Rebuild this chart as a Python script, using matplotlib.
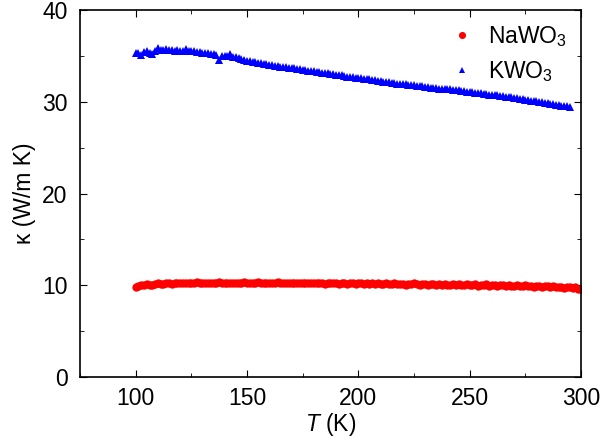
import matplotlib
matplotlib.use('Agg')
import matplotlib.pyplot as plt
from matplotlib.ticker import MultipleLocator

plt.rcParams['font.family'] = ['Liberation Sans', 'DejaVu Sans']
plt.rcParams['mathtext.fontset'] = 'custom'
plt.rcParams['mathtext.rm'] = 'Liberation Sans'
plt.rcParams['mathtext.it'] = 'Liberation Sans:italic'

# температура, K (шаг 1.25 K)
T_na = [100, 101.25, 102.5, 103.75, 105, 106.25, 107.5, 108.75,
        110, 111.25, 112.5, 113.75, 115, 116.25, 117.5, 118.75,
        120, 121.25, 122.5, 123.75, 125, 126.25, 127.5, 128.75,
        130, 131.25, 132.5, 133.75, 135, 136.25, 137.5, 138.75,
        140, 141.25, 142.5, 143.75, 145, 146.25, 147.5, 148.75,
        150, 151.25, 152.5, 153.75, 155, 156.25, 157.5, 158.75,
        160, 161.25, 162.5, 163.75, 165, 166.25, 167.5, 168.75,
        170, 171.25, 172.5, 173.75, 175, 176.25, 177.5, 178.75,
        180, 181.25, 182.5, 183.75, 185, 186.25, 187.5, 188.75,
        190, 191.25, 192.5, 193.75, 195, 196.25, 197.5, 198.75,
        200, 201.25, 202.5, 203.75, 205, 206.25, 207.5, 208.75,
        210, 211.25, 212.5, 213.75, 215, 216.25, 217.5, 218.75,
        220, 221.25, 222.5, 223.75, 225, 226.25, 227.5, 228.75,
        230, 231.25, 232.5, 233.75, 235, 236.25, 237.5, 238.75,
        240, 241.25, 242.5, 243.75, 245, 246.25, 247.5, 248.75,
        250, 251.25, 252.5, 253.75, 255, 256.25, 257.5, 258.75,
        260, 261.25, 262.5, 263.75, 265, 266.25, 267.5, 268.75,
        270, 271.25, 272.5, 273.75, 275, 276.25, 277.5, 278.75,
        280, 281.25, 282.5, 283.75, 285, 286.25, 287.5, 288.75,
        290, 291.25, 292.5, 293.75, 295, 296.25, 297.5, 298.75,
        300]
kappa_na = [9.85, 9.95, 10.0, 10.05, 10.1, 10.0, 10.0, 10.15,
            10.2, 10.15, 10.1, 10.25, 10.25, 10.15, 10.2, 10.3,
            10.3, 10.2, 10.25, 10.2, 10.3, 10.25, 10.35, 10.2,
            10.25, 10.3, 10.2, 10.25, 10.3, 10.2, 10.35, 10.25,
            10.2, 10.3, 10.25, 10.3, 10.2, 10.3, 10.25, 10.35,
            10.3, 10.2, 10.3, 10.25, 10.35, 10.25, 10.2, 10.3,
            10.3, 10.25, 10.2, 10.35, 10.25, 10.3, 10.2, 10.3,
            10.25, 10.2, 10.3, 10.25, 10.2, 10.3, 10.25, 10.2,
            10.25, 10.3, 10.2, 10.25, 10.15, 10.25, 10.2, 10.3,
            10.2, 10.15, 10.25, 10.2, 10.15, 10.25, 10.2, 10.15,
            10.2, 10.25, 10.15, 10.2, 10.1, 10.2, 10.15, 10.25,
            10.15, 10.1, 10.2, 10.15, 10.1, 10.2, 10.1, 10.15,
            10.15, 10.05, 10.15, 10.1, 10.2, 10.1, 10.05, 10.15,
            10.1, 10.05, 10.15, 10.1, 10.0, 10.1, 10.05, 10.15,
            10.05, 10.0, 10.1, 10.05, 10.1, 10.0, 10.05, 10.1,
            10.05, 10.0, 10.1, 9.95, 10.05, 10.0, 10.1, 9.95,
            10.05, 10.0, 9.95, 10.05, 10.0, 9.95, 10.05, 9.9,
            9.95, 10.0, 9.9, 9.95, 10.0, 9.9, 9.95, 9.85,
            9.95, 9.9, 9.85, 9.95, 9.9, 9.8, 9.9, 9.85,
            9.85, 9.8, 9.75, 9.85, 9.8, 9.7, 9.8, 9.65,
            9.55]

T_k = T_na[:157]
kappa_k = [35.35, 35.3, 35.15, 35.45, 35.5, 35.35, 35.2, 35.55,
           35.85, 35.7, 35.65, 35.75, 35.65, 35.7, 35.6, 35.65,
           35.6, 35.55, 35.8, 35.6, 35.5, 35.5, 35.45, 35.4,
           35.35, 35.35, 35.3, 35.25, 35.2, 35.15, 34.6, 35.05,
           35.0, 34.95, 35.2, 34.9, 34.85, 34.75, 34.65, 34.6,
           34.5, 34.45, 34.35, 34.3, 34.25, 34.2, 34.15, 34.1,
           34.05, 34.0, 33.95, 33.9, 33.85, 33.8, 33.75, 33.7,
           33.7, 33.65, 33.6, 33.55, 33.5, 33.45, 33.4, 33.4,
           33.35, 33.3, 33.25, 33.2, 33.15, 33.1, 33.05, 33.0,
           32.95, 32.95, 32.9, 32.8, 32.75, 32.75, 32.7, 32.65,
           32.6, 32.55, 32.5, 32.5, 32.45, 32.4, 32.35, 32.3,
           32.25, 32.2, 32.15, 32.15, 32.1, 32.05, 32.0, 32.0,
           31.95, 31.9, 31.85, 31.85, 31.8, 31.75, 31.7, 31.7,
           31.65, 31.6, 31.55, 31.55, 31.5, 31.45, 31.4, 31.4,
           31.35, 31.35, 31.3, 31.25, 31.25, 31.2, 31.15, 31.1,
           31.1, 31.05, 31.0, 31.0, 30.95, 30.9, 30.85, 30.8,
           30.75, 30.75, 30.7, 30.65, 30.6, 30.55, 30.5, 30.5,
           30.45, 30.4, 30.35, 30.3, 30.25, 30.2, 30.15, 30.1,
           30.05, 30.0, 29.95, 29.9, 29.85, 29.8, 29.75, 29.7,
           29.65, 29.6, 29.55, 29.5, 29.45]

fig = plt.figure(figsize=(6, 4.42), dpi=100)
ax = fig.add_axes([0.1333, 0.147, 0.835, 0.83])

ax.plot(T_na, kappa_na, 'o', color='red', markersize=6, markeredgewidth=0, label='NaWO$_3$')
ax.plot(T_k, kappa_k, '^', color='blue', markersize=5.5, markeredgewidth=0, label='KWO$_3$')

ax.set_xlim(75, 300)
ax.set_ylim(0, 40)
ax.xaxis.set_major_locator(MultipleLocator(50))
ax.xaxis.set_minor_locator(MultipleLocator(25))
ax.yaxis.set_major_locator(MultipleLocator(10))
ax.yaxis.set_minor_locator(MultipleLocator(5))
ax.tick_params(which='both', direction='in', top=True, right=True, labelsize=16.5)
ax.tick_params(axis='y', pad=9)
ax.tick_params(axis='x', pad=7)
ax.tick_params(which='major', length=5)
ax.tick_params(which='minor', length=3)
for s in ax.spines.values():
    s.set_linewidth(1.2)

ax.set_xlabel('$T$ (K)', fontsize=16.5, labelpad=1)
ax.set_ylabel('κ (W/m K)', fontsize=16.5, labelpad=4)

ax.legend(loc='upper right', frameon=False, fontsize=16.5, handletextpad=0.4,
          markerscale=0.85, borderaxespad=0.2, labelspacing=0.45, handlelength=1.5)

plt.savefig('out.png', dpi=100)
plt.close(fig)
